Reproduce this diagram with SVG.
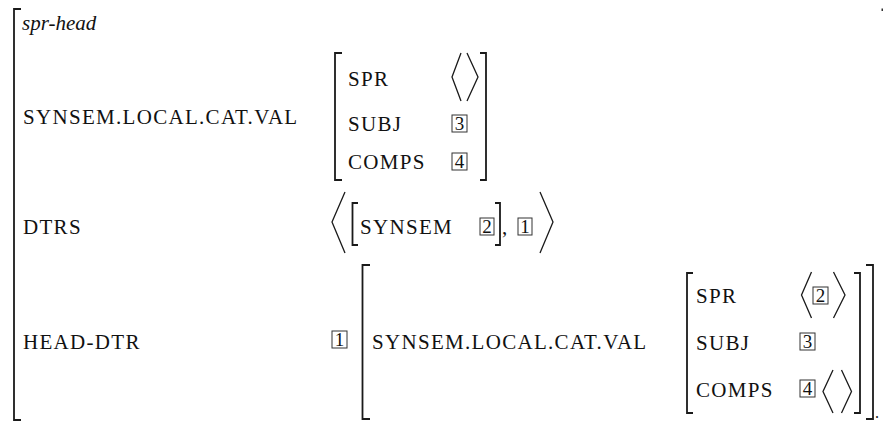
<svg xmlns="http://www.w3.org/2000/svg" width="883" height="423" viewBox="0 0 883 423">
<style>
.t{font-family:"Liberation Serif","Times New Roman",serif;font-size:21px;letter-spacing:1.3px;fill:#111}
.i{font-family:"Liberation Serif","Times New Roman",serif;font-size:21px;font-style:italic;fill:#111}
.n{font-family:"Liberation Serif","Times New Roman",serif;font-size:19px;fill:#111;text-anchor:middle}
.br{fill:none;stroke:#1a1a1a;stroke-width:1.8}
.ang{fill:none;stroke:#1a1a1a;stroke-width:1.3}
.box{fill:none;stroke:#333;stroke-width:1}
</style>
<rect width="883" height="423" fill="#fff"/>
<g id="outer">
  <path class="br" d="M21,9 H14 V420 H21"/>
  <rect x="881.5" y="8.5" width="1.5" height="2.5" fill="#333"/>
  <text class="i" x="22" y="30">spr-head</text>
</g>
<g id="row-val">
  <text class="t" x="23" y="124">SYNSEM.LOCAL.CAT.VAL</text>
  <path class="br" d="M342,53 H335 V180 H342"/>
  <text class="t" x="348" y="86">SPR</text>
  <path class="ang" d="M461,53 L452,77 L461,101"/>
  <path class="ang" d="M467,53 L478,77 L467,101"/>
  <text class="t" x="348" y="131">SUBJ</text>
  <rect class="box" x="452" y="115" width="15" height="17"/>
  <text class="n" x="459.5" y="130">3</text>
  <text class="t" x="348" y="169">COMPS</text>
  <rect class="box" x="452" y="153" width="15" height="17"/>
  <text class="n" x="459.5" y="168">4</text>
  <path class="br" d="M480,53 H486 V180 H480"/>
</g>
<g id="row-dtrs">
  <text class="t" x="23" y="234">DTRS</text>
  <path class="ang" d="M345,192 L332,222 L345,253"/>
  <path class="br" d="M358,203 H352.5 V245 H358"/>
  <text class="t" x="360" y="234">SYNSEM</text>
  <rect class="box" x="480" y="218" width="14" height="17"/>
  <text class="n" x="487" y="233">2</text>
  <path class="br" d="M495,203 H500 V245 H495"/>
  <text class="t" x="502" y="234">,</text>
  <rect class="box" x="518" y="218" width="14" height="17"/>
  <text class="n" x="525" y="233">1</text>
  <path class="ang" d="M540,192 L553,222 L540,253"/>
</g>
<g id="row-head-dtr">
  <text class="t" x="23" y="349">HEAD-DTR</text>
  <rect class="box" x="332" y="331" width="15" height="17"/>
  <text class="n" x="339.5" y="346">1</text>
  <path class="br" d="M370,265 H362.5 V419 H370"/>
  <text class="t" x="372" y="349">SYNSEM.LOCAL.CAT.VAL</text>
  <path class="br" d="M693,273 H687 V413 H693"/>
  <text class="t" x="696" y="303">SPR</text>
  <path class="ang" d="M811.5,272 L801.5,295 L811.5,318"/>
  <rect class="box" x="813" y="287" width="15" height="17"/>
  <text class="n" x="820.5" y="302">2</text>
  <path class="ang" d="M833.5,272 L845,295 L833.5,318"/>
  <text class="t" x="696" y="349.5">SUBJ</text>
  <rect class="box" x="800" y="333" width="15" height="17"/>
  <text class="n" x="807.5" y="348">3</text>
  <text class="t" x="696" y="396.5">COMPS</text>
  <rect class="box" x="800" y="380" width="15" height="17"/>
  <text class="n" x="807.5" y="395">4</text>
  <path class="ang" d="M833,370 L823,391.5 L833,413"/>
  <path class="ang" d="M841.5,370 L851.5,391.5 L841.5,413"/>
  <path class="br" d="M854,273 H860 V413 H854"/>
  <path class="br" d="M866,265 H873 V419 H866"/>
  <text x="875" y="418" font-family="Liberation Serif, serif" font-size="16" fill="#111">.</text>
</g>
</svg>
